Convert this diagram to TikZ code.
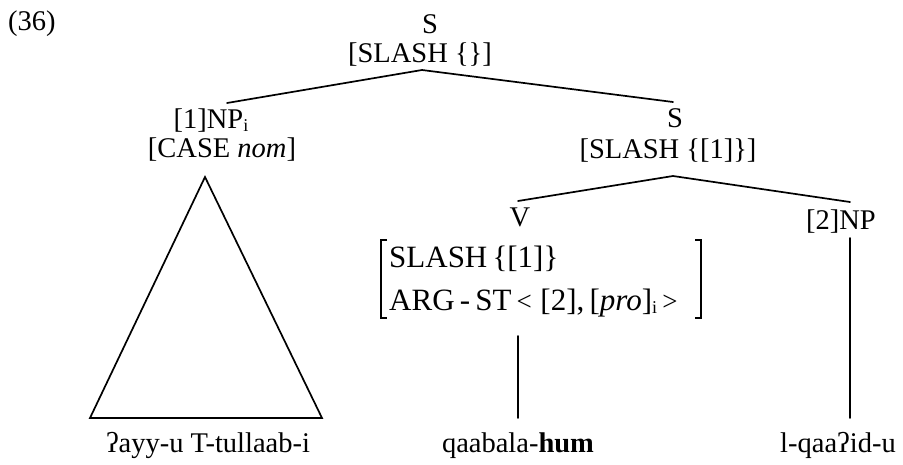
\documentclass[tikz,border=0pt]{standalone}
\usepackage{fontspec}
\setmainfont{Liberation Serif}
\newcommand{\lowi}{\raisebox{-0.12em}{\fontsize{18}{18}\selectfont i}}
\newcommand{\smlt}{{\fontsize{27}{27}\selectfont <}}
\newcommand{\smgt}{{\fontsize{27}{27}\selectfont >}}
\begin{document}
\begin{tikzpicture}[x=1pt,y=-1pt,
  lbl/.style={inner sep=0pt, font=\fontsize{28.5}{34}\selectfont},
  avm/.style={inner sep=0pt, font=\fontsize{31}{37}\selectfont},
  edge/.style={line width=1.7pt, line cap=round},
  brk/.style={line width=1.3pt}]
\useasboundingbox (0,0) rectangle (903,464);
% labels
\node[lbl,anchor=base west] (ex) at (8,30) {(36)};
\node[lbl,anchor=base] (S) at (430,33) {S};
\node[lbl,anchor=base] (Sf) at (420,62) {[SLASH \{\}]};
\node[lbl,anchor=base] (NP) at (211,128) {[1]NP\lowi};
\node[lbl,anchor=base] (NPf) at (222,157) {[CASE \textit{nom}]};
\node[lbl,anchor=base] (S2) at (675,127) {S};
\node[lbl,anchor=base] (S2f) at (668,158) {[SLASH \{[1]\}]};
\node[lbl,anchor=base] (V) at (520,226) {V};
\node[lbl,anchor=base] (NP2) at (841,229) {[2]NP};
\node[avm,anchor=base west] (avm1) at (389,267) {SLASH\,\{[1]\}};
\node[avm,anchor=base west] (avm2) at (389,310) {ARG\,-\,ST\,\smlt\;[2],\,[\textit{pro}]\lowi\,\smgt};
\node[lbl,anchor=base] (w1) at (208,452) {ʔayy-u T-tullaab-i};
\node[lbl,anchor=base] (w2) at (518,452) {qaabala-\textbf{hum}};
\node[lbl,anchor=base] (w3) at (838,452) {l-qaaʔid-u};
% connector points
\coordinate (Sb) at (422,70);
\coordinate (NPt) at (227,103);
\coordinate (S2t) at (673,102);
\coordinate (S2b) at (673,176);
\coordinate (Vt) at (518,201);
\coordinate (NP2t) at (850,202);
\coordinate (Vb) at (518,336);
\coordinate (w2t) at (518,418);
\coordinate (NP2b) at (850,238);
\coordinate (w3t) at (850,418);
\coordinate (triA) at (205,177);
\coordinate (triL) at (90,418);
\coordinate (triR) at (322,418);
% tree edges
\draw[edge] (NPt) -- (Sb) -- (S2t);
\draw[edge] (Vt) -- (S2b) -- (NP2t);
\draw[edge] (Vb) -- (w2t);
\draw[edge] (NP2b) -- (w3t);
\draw[edge, line join=miter] (triA) -- (triL) -- (triR) -- cycle;
% AVM brackets
\draw[brk] (387,240) -- (381,240) -- (381,318) -- (387,318);
\draw[brk] (695,240) -- (701,240) -- (701,318) -- (695,318);
\end{tikzpicture}
\end{document}
